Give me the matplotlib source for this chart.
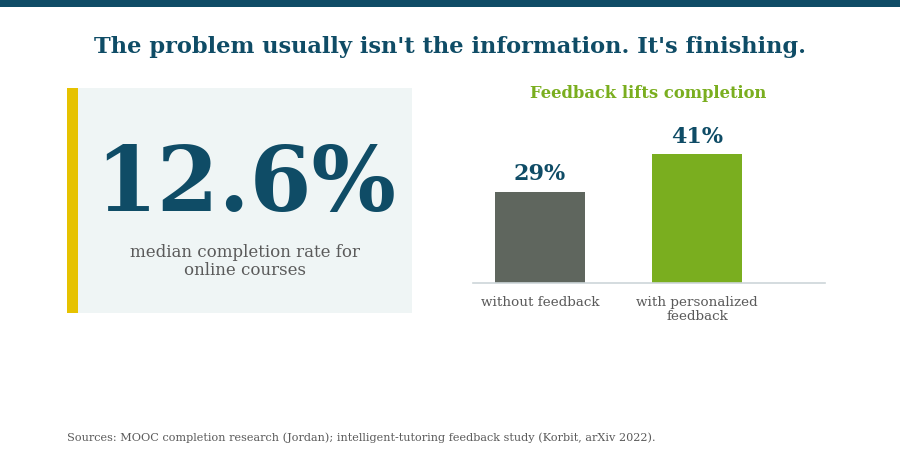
import matplotlib
matplotlib.use("Agg")
import matplotlib.pyplot as plt
from matplotlib.patches import Rectangle
from matplotlib import font_manager as fm

title = "The problem usually isn't the information. It's finishing."
big_stat = "12.6%"
big_caption = "median completion rate for\nonline courses"
chart_title = "Feedback lifts completion"
categories = ["without feedback", "with personalized\nfeedback"]
values = [29, 41]
value_labels = ["29%", "41%"]
source = "Sources: MOOC completion research (Jordan); intelligent-tutoring feedback study (Korbit, arXiv 2022)."

NAVY = "#0f4c66"
GREEN = "#7aae1f"
GRAY = "#5f665e"
TXT = "#5a5a5a"

REG_PATH = fm.findfont(fm.FontProperties(family="DejaVu Serif", weight="normal"))
BOLD_PATH = fm.findfont(fm.FontProperties(family="DejaVu Serif", weight="bold"))

def reg(size):
    return fm.FontProperties(fname=REG_PATH, size=size)

def bold(size):
    return fm.FontProperties(fname=BOLD_PATH, size=size)

W, H = 900, 466
fig = plt.figure(figsize=(W / 100, H / 100), dpi=100)
fig.patch.set_facecolor("white")

def fx(x): return x / W
def fy(y): return 1 - y / H

# top bar
fig.patches.append(Rectangle((0, fy(7)), 1, 7 / H, transform=fig.transFigure,
                             facecolor=NAVY, edgecolor="none"))
fig.text(0.5, fy(47), title, ha="center", va="center", fontproperties=bold(16.2), color=NAVY)

# left panel
fig.patches.append(Rectangle((fx(67), fy(313)), fx(412 - 67), (313 - 88) / H,
                             transform=fig.transFigure, facecolor="#eff5f5", edgecolor="none"))
fig.patches.append(Rectangle((fx(67), fy(313)), fx(11), (313 - 88) / H,
                             transform=fig.transFigure, facecolor="#e6c200", edgecolor="none"))
fig.text(fx(246), fy(187), big_stat, ha="center", va="center", fontproperties=bold(64), color=NAVY)
fig.text(fx(245), fy(261.5), big_caption, ha="center", va="center", fontproperties=reg(12),
         color=TXT, linespacing=1.05)

# bar chart
ax = fig.add_axes([fx(473), fy(283), fx(825 - 473), 173 / H])
x = list(range(len(values)))
ax.bar(x, values, width=0.57, color=[GRAY, GREEN])
ax.set_xlim(-0.427, 1.815)
ax.set_ylim(0, 55)
for xi, v, lab in zip(x, values, value_labels):
    ax.text(xi, v + 2.0, lab, ha="center", va="bottom", fontproperties=bold(16), color=NAVY)
ax.set_xticks(x)
ax.set_xticklabels(categories, fontproperties=reg(9.7), color=TXT, linespacing=1.05)
ax.tick_params(axis="x", length=0, pad=9.5)
ax.set_yticks([])
for s in ["top", "right", "left"]:
    ax.spines[s].set_visible(False)
ax.spines["bottom"].set_color("#cdd6d9")
ax.spines["bottom"].set_linewidth(1.2)
ax.patch.set_alpha(0)
fig.text(fx(648), fy(94), chart_title, ha="center", va="center", fontproperties=bold(11.8), color=GREEN)

fig.text(fx(67), fy(438), source, ha="left", va="center", fontproperties=reg(8.1), color=TXT)

fig.savefig("out.png", dpi=100)
